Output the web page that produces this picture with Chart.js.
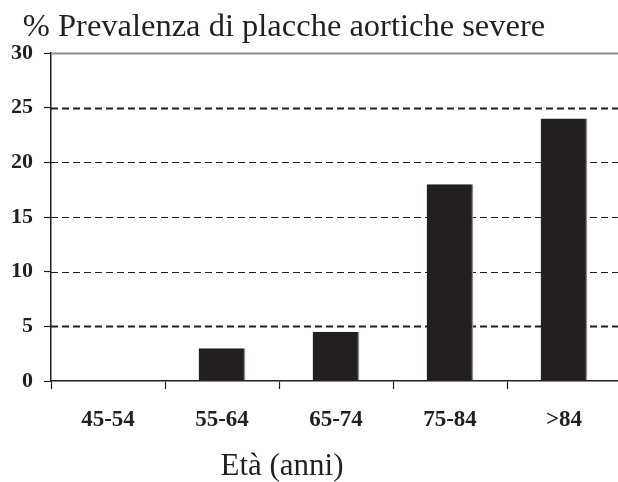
<!DOCTYPE html>
<html>
<head>
<meta charset="utf-8">
<script src="https://cdn.jsdelivr.net/npm/chart.js@4.4.1/dist/chart.umd.min.js"></script>
<style>
	html, body { margin: 0; padding: 0; background: #fff; overflow: hidden; }
	#wrap { width: 624px; height: 482px; }
</style>
</head>
<body>
<div id="wrap"><canvas id="chart"></canvas></div>
<script>
// values
const ageGroups = ["45-54", "55-64", "65-74", "75-84", ">84"];
const prevalence = [0, 3, 4.5, 18, 24];
const yMin = 0, yMax = 30, yStep = 5;

const chartTitle = "% Prevalenza di placche aortiche severe";
const xTitle = "Età (anni)";

const ink = "#231f20";
const serif = "'Liberation Serif', 'Times New Roman', serif";

// dashed horizontal lines + top grey line + the two free-standing titles
const decorations = {
	id: "decorations",
	beforeDatasetsDraw(chart) {
		const {ctx, chartArea, scales} = chart;
		const y = scales.y;
		ctx.save();
		y.ticks.forEach(t => {
			if (t.value === yMin) return;
			const py = Math.round(y.getPixelForValue(t.value)) + 0.5;
			ctx.beginPath();
			if (t.value === yMax) {
				ctx.setLineDash([]);
				ctx.strokeStyle = "#8c8c8c";
				ctx.lineWidth = 2;
			} else {
				ctx.setLineDash([7, 4]);
				ctx.strokeStyle = ink;
				ctx.lineWidth = (t.value === 25 || t.value === 5) ? 1.8 : 1.2;
			}
			ctx.moveTo(chartArea.left, py);
			ctx.lineTo(chart.width, py);
			ctx.stroke();
		});
		ctx.restore();
	},
	afterDraw(chart) {
		const {ctx} = chart;
		ctx.save();
		ctx.fillStyle = ink;
		ctx.textAlign = "center";
		ctx.textBaseline = "alphabetic";
		ctx.font = "32.5px " + serif;
		ctx.fillText(chartTitle, 284, 36);
		ctx.font = "31px " + serif;
		ctx.fillText(xTitle, 282, 475);
		ctx.restore();
	}
};

new Chart(document.getElementById("chart"), {
	type: "bar",
	data: {
		labels: ageGroups,
		datasets: [{
			data: prevalence,
			backgroundColor: ink,
			borderColor: "#8c8c8c",
			borderWidth: {top: 0, left: 0, bottom: 0, right: 1.5},
			borderSkipped: false,
			barPercentage: 0.41,
			categoryPercentage: 1
		}]
	},
	options: {
		responsive: true,
		maintainAspectRatio: false,
		animation: false,
		layout: { padding: {top: 53, right: 3, bottom: 0, left: 0} },
		plugins: {
			legend: { display: false },
			tooltip: { enabled: false }
		},
		scales: {
			x: {
				grid: {
					offset: true,
					drawOnChartArea: false,
					drawTicks: true,
					tickLength: 8,
					tickColor: ink,
					tickWidth: 1.2
				},
				border: { display: true, color: ink, width: 1.5 },
				ticks: {
					color: ink,
					padding: 17,
					font: { family: serif, size: 23, weight: "bold" }
				},
				afterFit(scale) { scale.height = 101; }
			},
			y: {
				min: yMin,
				max: yMax,
				ticks: {
					stepSize: yStep,
					color: ink,
					padding: 11,
					font: { family: serif, size: 22, weight: "bold" }
				},
				grid: {
					drawOnChartArea: false,
					drawTicks: true,
					tickLength: 7,
					tickColor: ink,
					tickWidth: 1.2
				},
				border: { display: true, color: ink, width: 1.5 },
				afterFit(scale) { scale.width = 51; }
			}
		}
	},
	plugins: [decorations]
});
</script>
</body>
</html>
